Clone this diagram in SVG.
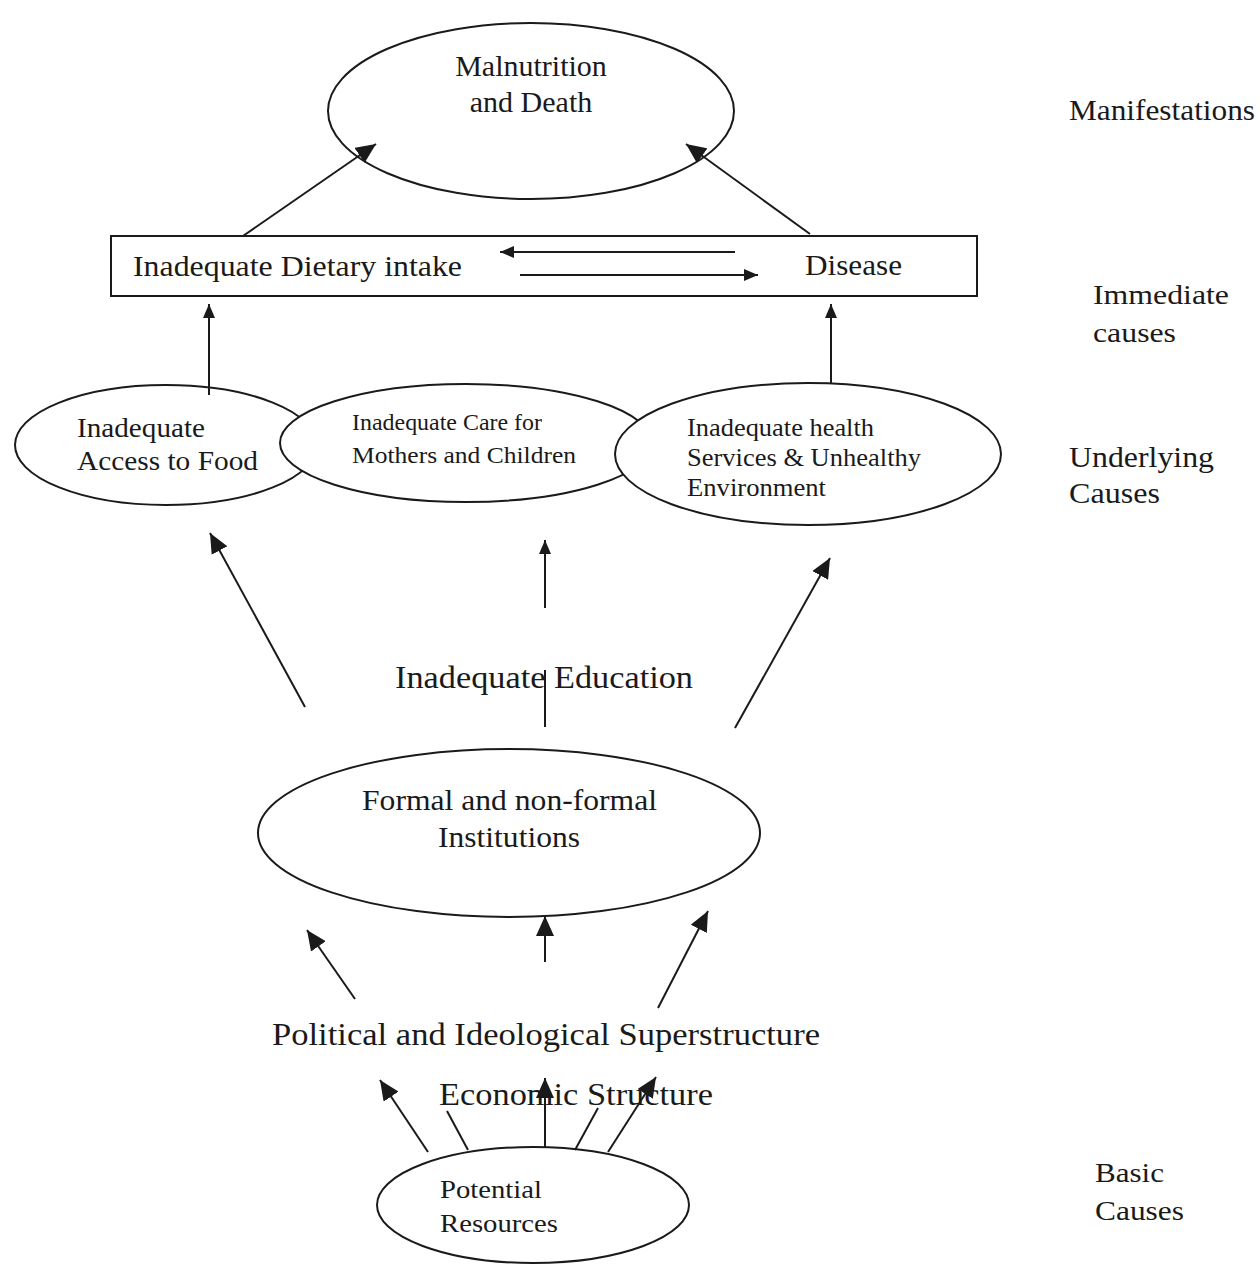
<svg xmlns="http://www.w3.org/2000/svg" width="1260" height="1264" viewBox="0 0 1260 1264">
<style>
  text { font-family: "Liberation Serif", "Times New Roman", serif; fill: #1a1a1a; }
  .node { fill: #ffffff; stroke: #1a1a1a; stroke-width: 2; }
  .c { stroke: #1a1a1a; stroke-width: 2; fill: none; }
  .ca { stroke: #1a1a1a; stroke-width: 2; fill: none; marker-end: url(#ah); }
  .cs { stroke: #1a1a1a; stroke-width: 2; fill: none; marker-end: url(#ahs); }
</style>
<defs>
  <marker id="ah" markerUnits="userSpaceOnUse" markerWidth="22" markerHeight="18" refX="20" refY="9" orient="auto">
    <path d="M0,0 L20,9 L0,18 Z" fill="#1a1a1a"/>
  </marker>
  <marker id="ahs" markerUnits="userSpaceOnUse" markerWidth="16" markerHeight="12" refX="14" refY="6" orient="auto">
    <path d="M0,0 L14,6 L0,12 Z" fill="#1a1a1a"/>
  </marker>
</defs>
<rect width="1260" height="1264" fill="#ffffff"/>

<g id="n-malnutrition">
  <ellipse class="node" cx="531" cy="111" rx="203" ry="88"/>
  <text x="531" y="76" font-size="30" text-anchor="middle">Malnutrition</text>
  <text x="531" y="112" font-size="30" text-anchor="middle">and Death</text>
</g>

<g id="n-immediate">
  <rect class="node" x="111" y="236" width="866" height="60"/>
  <text x="133" y="276" font-size="30" textLength="329" lengthAdjust="spacingAndGlyphs">Inadequate Dietary intake</text>
  <text x="805" y="275" font-size="30" textLength="97" lengthAdjust="spacingAndGlyphs">Disease</text>
</g>

<g id="n-access">
  <ellipse class="node" cx="166" cy="445" rx="151" ry="60"/>
  <text x="77" y="437" font-size="28" textLength="128" lengthAdjust="spacingAndGlyphs">Inadequate</text>
  <text x="77" y="470" font-size="28" textLength="181" lengthAdjust="spacingAndGlyphs">Access to Food</text>
</g>

<g id="n-care">
  <ellipse class="node" cx="466" cy="443" rx="186" ry="59"/>
  <text x="352" y="430" font-size="23" textLength="190" lengthAdjust="spacingAndGlyphs">Inadequate Care for</text>
  <text x="352" y="463" font-size="24" textLength="224" lengthAdjust="spacingAndGlyphs">Mothers and Children</text>
</g>

<g id="n-health">
  <ellipse class="node" cx="808" cy="454" rx="193" ry="71"/>
  <text x="687" y="436" font-size="25" textLength="187" lengthAdjust="spacingAndGlyphs">Inadequate health</text>
  <text x="687" y="466" font-size="25" textLength="234" lengthAdjust="spacingAndGlyphs">Services &amp; Unhealthy</text>
  <text x="687" y="496" font-size="25" textLength="139" lengthAdjust="spacingAndGlyphs">Environment</text>
</g>

<g id="n-education">
  <text x="395" y="688" font-size="32" textLength="298" lengthAdjust="spacingAndGlyphs">Inadequate Education</text>
</g>

<g id="n-institutions">
  <ellipse class="node" cx="509" cy="833" rx="251" ry="84"/>
  <text x="362" y="810" font-size="29" textLength="295" lengthAdjust="spacingAndGlyphs">Formal and non-formal</text>
  <text x="438" y="847" font-size="29" textLength="142" lengthAdjust="spacingAndGlyphs">Institutions</text>
</g>

<g id="n-political">
  <text x="272" y="1045" font-size="32" textLength="548" lengthAdjust="spacingAndGlyphs">Political and Ideological Superstructure</text>
</g>

<g id="n-economic">
  <text x="439" y="1105" font-size="32" textLength="274" lengthAdjust="spacingAndGlyphs">Economic Structure</text>
</g>

<g id="n-resources">
  <ellipse class="node" cx="533" cy="1205" rx="156" ry="58"/>
  <text x="440" y="1198" font-size="26" textLength="102" lengthAdjust="spacingAndGlyphs">Potential</text>
  <text x="440" y="1232" font-size="26" textLength="118" lengthAdjust="spacingAndGlyphs">Resources</text>
</g>

<g id="labels">
  <text x="1069" y="120" font-size="29" textLength="186" lengthAdjust="spacingAndGlyphs">Manifestations</text>
  <text x="1093" y="304" font-size="28" textLength="136" lengthAdjust="spacingAndGlyphs">Immediate</text>
  <text x="1093" y="342" font-size="28" textLength="83" lengthAdjust="spacingAndGlyphs">causes</text>
  <text x="1069" y="467" font-size="29" textLength="145" lengthAdjust="spacingAndGlyphs">Underlying</text>
  <text x="1069" y="503" font-size="29" textLength="91" lengthAdjust="spacingAndGlyphs">Causes</text>
  <text x="1095" y="1182" font-size="28" textLength="69" lengthAdjust="spacingAndGlyphs">Basic</text>
  <text x="1095" y="1220" font-size="28" textLength="89" lengthAdjust="spacingAndGlyphs">Causes</text>
</g>

<g id="connectors">
  <line class="ca" x1="243" y1="236" x2="376" y2="144"/>
  <line class="ca" x1="810" y1="234" x2="686" y2="144"/>
  <line class="cs" x1="735" y1="252" x2="500" y2="252"/>
  <line class="cs" x1="520" y1="275" x2="758" y2="275"/>
  <line class="cs" x1="209" y1="395" x2="209" y2="304"/>
  <line class="cs" x1="831" y1="383" x2="831" y2="304"/>
  <line class="ca" x1="305" y1="707" x2="210" y2="533"/>
  <line class="cs" x1="545" y1="608" x2="545" y2="540"/>
  <line class="c" x1="545" y1="670" x2="545" y2="727"/>
  <line class="ca" x1="735" y1="728" x2="830" y2="558"/>
  <line class="ca" x1="355" y1="999" x2="307" y2="930"/>
  <line class="ca" x1="545" y1="962" x2="545" y2="916"/>
  <line class="ca" x1="658" y1="1008" x2="708" y2="911"/>
  <line class="ca" x1="428" y1="1152" x2="380" y2="1080"/>
  <line class="c" x1="468" y1="1150" x2="447" y2="1111"/>
  <line class="ca" x1="545" y1="1148" x2="545" y2="1078"/>
  <line class="c" x1="575" y1="1150" x2="598" y2="1108"/>
  <line class="ca" x1="608" y1="1152" x2="656" y2="1077"/>
</g>
</svg>
